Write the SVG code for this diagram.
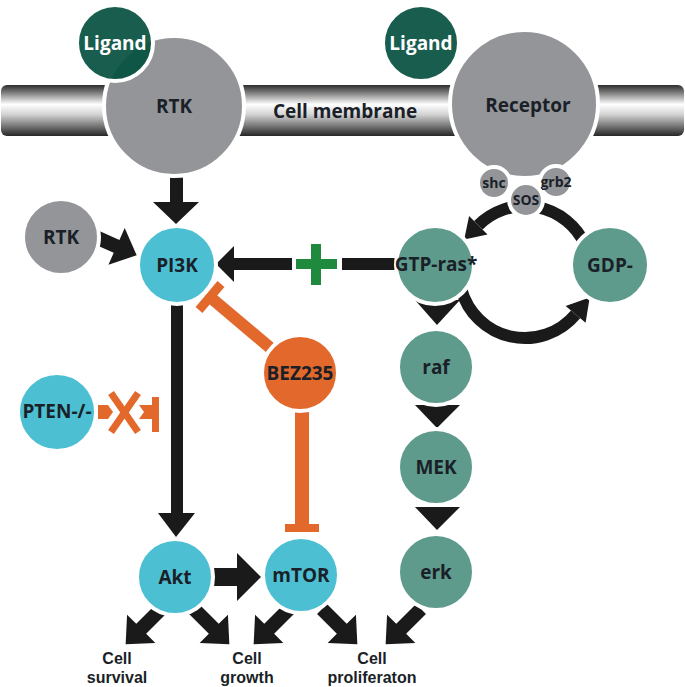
<svg xmlns="http://www.w3.org/2000/svg" width="685" height="687" viewBox="0 0 685 687">
<defs>
<linearGradient id="mem" x1="0" y1="0" x2="0" y2="1">
<stop offset="0" stop-color="#2e2e2e"/>
<stop offset="0.15" stop-color="#7d7d7d"/>
<stop offset="0.38" stop-color="#ffffff"/>
<stop offset="0.58" stop-color="#d2d2d2"/>
<stop offset="0.82" stop-color="#707070"/>
<stop offset="1" stop-color="#262626"/>
</linearGradient>
<polygon id="arr" points="0,-7 28,-7 28,-20 50,0 28,20 28,7 0,7"/>
<style>
.node{stroke:#fff;stroke-width:4}
.gray{fill:#939598}
.cyan{fill:#4cbfd3}
.teal{fill:#5e9b8c}
.lig{fill:#06513f;fill-opacity:0.93}
.org{fill:#e2692b}
.lbl{font-family:"Open Sans","Noto Sans",sans-serif;font-weight:700;font-size:19px;fill:#1a1f28;text-anchor:middle}
.w{fill:#ffffff}
.sm{font-size:14px}
.out{font-family:"Liberation Sans",Arial,sans-serif;font-size:16px}
.blk{fill:#1a1a1a}
.oln{stroke:#e2692b;fill:none}
</style>
</defs>
<rect width="685" height="687" fill="#ffffff"/>
<g id="membrane">
<rect x="1" y="85" width="683" height="51" rx="6" fill="url(#mem)"/>
<text class="lbl" x="345" y="118" font-size="20">Cell membrane</text>
</g>
<g id="connectors">
<rect class="blk" x="170" y="172" width="13" height="32"/>
<polygon class="blk" points="153,202 199,202 176,224"/>
<use href="#arr" class="blk" transform="translate(91,235) rotate(24)"/>
<rect class="blk" x="342" y="258" width="58" height="12"/>
<rect class="blk" x="232" y="258" width="60" height="12"/>
<polygon class="blk" points="234,246 234,282 216,264"/>
<rect x="296" y="259" width="41" height="10" fill="#1f8a3d"/>
<rect x="311" y="244" width="10" height="41" fill="#1f8a3d"/>
<rect class="blk" x="171" y="300" width="12" height="216"/>
<polygon class="blk" points="158,513 195,513 176,537"/>
<rect class="blk" x="213" y="568" width="26" height="18"/>
<polygon class="blk" points="237,553 237,601 261,577"/>
<polygon class="blk" points="415,300 460,300 437,325"/>
<polygon class="blk" points="415,405 460,405 437,428"/>
<polygon class="blk" points="415,507 460,507 437,530"/>
<path d="M584.8,244.1 A66,66 0 0 0 478.3,225.3" stroke="#1a1a1a" stroke-width="12" fill="none"/>
<polygon class="blk" points="487.5,234.5 469.1,216.1 464.2,239.4"/>
<path d="M461.2,289.1 A66,66 0 0 0 575.6,314.4" stroke="#1a1a1a" stroke-width="12" fill="none"/>
<polygon class="blk" points="585.6,322.8 565.6,306 589.7,297.5"/>
<line class="oln" x1="300" y1="373" x2="210" y2="297" stroke-width="12"/>
<line class="oln" x1="221" y1="284" x2="199" y2="310" stroke-width="9"/>
<line class="oln" x1="302" y1="405" x2="302" y2="526" stroke-width="14"/>
<rect class="org" x="285" y="524" width="34" height="8"/>
<polygon class="org" points="98,405 108,405 113,412 108,419 98,419"/>
<line class="oln" x1="111" y1="393" x2="138" y2="432" stroke-width="7"/>
<line class="oln" x1="138" y1="393" x2="111" y2="432" stroke-width="7"/>
<polygon class="org" points="139,405 154,405 154,419 139,419 144,412"/>
<rect class="org" x="152" y="397" width="7" height="35"/>
<use href="#arr" class="blk" transform="translate(161,609) rotate(135)"/>
<use href="#arr" class="blk" transform="translate(194,609) rotate(45)"/>
<use href="#arr" class="blk" transform="translate(289,609) rotate(135)"/>
<use href="#arr" class="blk" transform="translate(322,609) rotate(45)"/>
<use href="#arr" class="blk" transform="translate(421,609) rotate(135)"/>
</g>
<g id="node-rtk"><circle class="node gray" cx="174" cy="106" r="70"/><text class="lbl" x="174" y="113">RTK</text></g>
<g id="node-ligand1"><circle class="node lig" cx="115" cy="43" r="38"/><text class="lbl w" x="115" y="50" font-size="20">Ligand</text></g>
<g id="node-receptor"><circle class="node gray" cx="524" cy="104" r="74"/><text class="lbl" x="528" y="112" font-size="20">Receptor</text></g>
<g id="node-ligand2"><circle class="node lig" cx="421" cy="43" r="38"/><text class="lbl w" x="421" y="50" font-size="20">Ligand</text></g>
<g id="node-shc"><circle class="node gray" cx="494" cy="183" r="16"/><text class="lbl sm" x="494" y="188">shc</text></g>
<g id="node-grb2"><circle class="node gray" cx="556" cy="182" r="16"/><text class="lbl sm" x="556" y="187">grb2</text></g>
<g id="node-sos"><circle class="node gray" cx="526" cy="200" r="17"/><text class="lbl sm" x="526" y="205">SOS</text></g>
<g id="node-rtk2"><circle class="node gray" cx="61" cy="237" r="38"/><text class="lbl" x="61" y="244">RTK</text></g>
<g id="node-pi3k"><circle class="node cyan" cx="177" cy="265" r="39"/><text class="lbl" x="177" y="272">PI3K</text></g>
<g id="node-gtpras"><circle class="node teal" cx="435" cy="265" r="39"/><text class="lbl" x="436" y="271" font-size="17">GTP-ras*</text></g>
<g id="node-gdp"><circle class="node teal" cx="610" cy="265" r="39"/><text class="lbl" x="610" y="272">GDP-</text></g>
<g id="node-bez235"><circle class="node org" cx="300" cy="373" r="38"/><text class="lbl" x="300" y="380">BEZ235</text></g>
<g id="node-pten"><circle class="node cyan" cx="57" cy="412" r="39"/><text class="lbl" x="57" y="418" font-size="17">PTEN-/-</text></g>
<g id="node-raf"><circle class="node teal" cx="436" cy="367" r="38"/><text class="lbl" x="436" y="374">raf</text></g>
<g id="node-mek"><circle class="node teal" cx="436" cy="467" r="38"/><text class="lbl" x="436" y="474">MEK</text></g>
<g id="node-erk"><circle class="node teal" cx="436" cy="572" r="38"/><text class="lbl" x="436" y="579">erk</text></g>
<g id="node-akt"><circle class="node cyan" cx="175" cy="577" r="38"/><text class="lbl" x="175" y="584">Akt</text></g>
<g id="node-mtor"><circle class="node cyan" cx="301" cy="575" r="38"/><text class="lbl" x="301" y="582">mTOR</text></g>
<g id="outcomes">
<text class="lbl out" x="117" y="664">Cell<tspan x="117" dy="19">survival</tspan></text>
<text class="lbl out" x="247" y="664">Cell<tspan x="247" dy="19">growth</tspan></text>
<text class="lbl out" x="372" y="664">Cell<tspan x="372" dy="19">proliferaton</tspan></text>
</g>
</svg>
